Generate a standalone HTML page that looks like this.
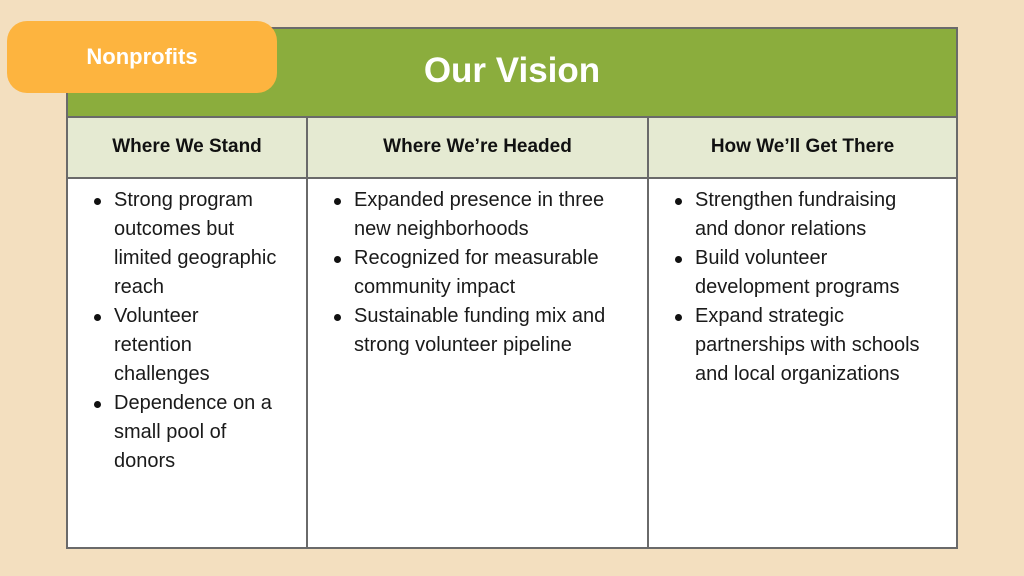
<!DOCTYPE html>
<html><head><style>
body{margin:0;width:1024px;height:576px;background:#f3dfbf;position:relative;overflow:hidden;font-family:"Liberation Sans",sans-serif}
.t{position:absolute;left:66px;top:27px;width:888px;height:518px;border:2px solid #6a6a6a;background:#fff}
.hd{position:absolute;left:0;top:0;width:888px;height:87px;background:#8bad3d;border-bottom:2px solid #6a6a6a;color:#fff;font-weight:bold;font-size:35px;text-align:center;line-height:84px}
.sh{position:absolute;top:89px;height:59px;background:#e5ead2;border-bottom:2px solid #6a6a6a;font-weight:bold;font-size:19px;text-align:center;line-height:57px;color:#111}
.vl{position:absolute;top:89px;width:2px;height:429px;background:#6a6a6a}
ul{position:absolute;top:157px;margin:0;padding:0 0 0 46px;font-size:20px;line-height:29px;color:#1a1a1a;list-style:none;white-space:nowrap}
li{position:relative}
li:before{content:"";position:absolute;left:-20px;top:12px;width:7px;height:7px;border-radius:50%;background:#111}
.tag{position:absolute;left:7px;top:21px;width:270px;height:72px;background:#fdb43f;border-radius:20px;color:#fff;font-weight:bold;font-size:22px;line-height:72px;text-align:center}
</style></head><body>
<div class="t">
<div class="hd">Our Vision</div>
<div class="sh" style="left:0;width:238px">Where We Stand</div>
<div class="sh" style="left:240px;width:339px">Where We’re Headed</div>
<div class="sh" style="left:581px;width:307px">How We’ll Get There</div>
<div class="vl" style="left:238px"></div>
<div class="vl" style="left:579px"></div>
<ul style="left:0"><li>Strong program<br>outcomes but<br>limited geographic<br>reach</li><li>Volunteer<br>retention<br>challenges</li><li>Dependence on a<br>small pool of<br>donors</li></ul>
<ul style="left:240px"><li>Expanded presence in three<br>new neighborhoods</li><li>Recognized for measurable<br>community impact</li><li>Sustainable funding mix and<br>strong volunteer pipeline</li></ul>
<ul style="left:581px"><li>Strengthen fundraising<br>and donor relations</li><li>Build volunteer<br>development programs</li><li>Expand strategic<br>partnerships with schools<br>and local organizations</li></ul>
</div>
<div class="tag">Nonprofits</div>
</body></html>
